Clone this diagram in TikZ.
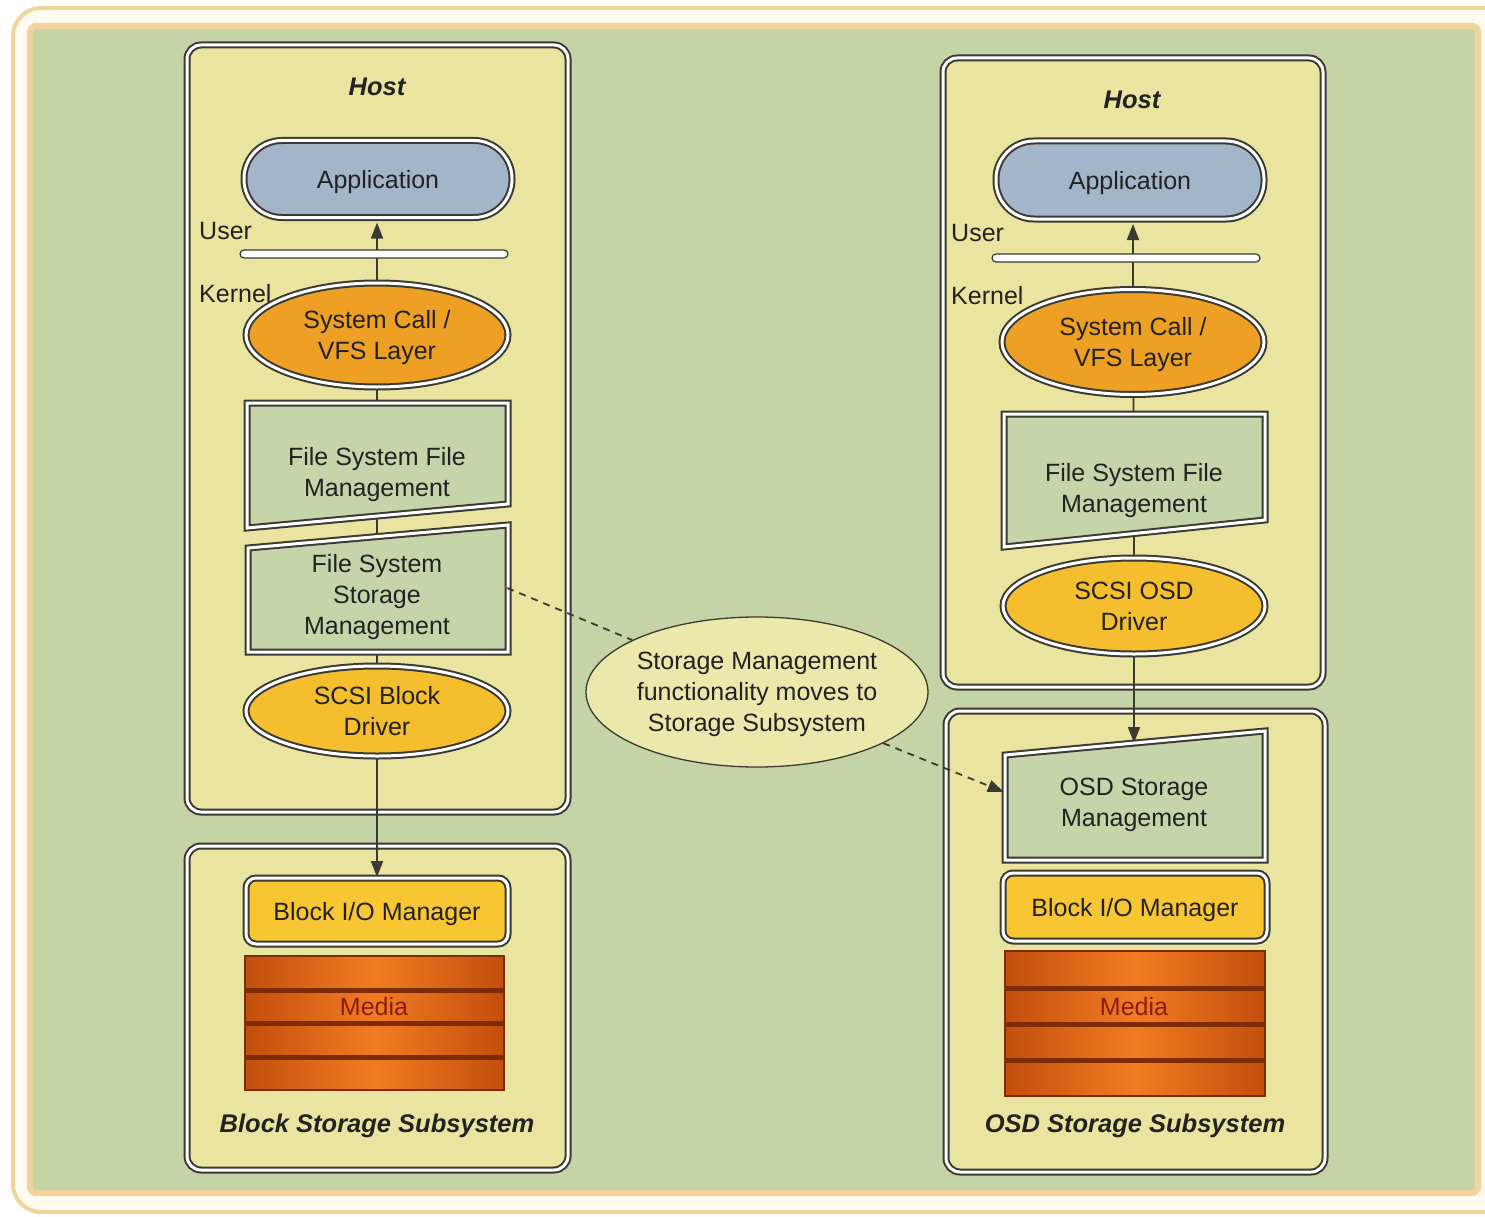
\documentclass[tikz,border=0pt]{standalone}
\usepackage{fontspec}
\setmainfont{Liberation Sans}
\usetikzlibrary{shapes.geometric,arrows.meta,calc}
\pgfdeclarelayer{base}
\pgfdeclarelayer{bg}
\pgfdeclarelayer{mid}
\pgfsetlayers{base,bg,mid,main}
\definecolor{bggreen}{HTML}{C5D4A7}
\definecolor{frameor}{HTML}{F0D49C}
\definecolor{framecream}{HTML}{FFFBF0}
\definecolor{hostyel}{HTML}{E9E5A0}
\definecolor{appblue}{HTML}{A2B5C9}
\definecolor{sysor}{HTML}{EDA024}
\definecolor{scsiyel}{HTML}{F4BE2E}
\definecolor{bioyel}{HTML}{F8C632}
\definecolor{fsgreen}{HTML}{C6D4AA}
\definecolor{callfill}{HTML}{EBE8AC}
\definecolor{meddark}{HTML}{C24E0C}
\definecolor{medlight}{HTML}{F27C22}
\definecolor{medband}{HTML}{7E2C08}
\definecolor{medtext}{HTML}{8B1A10}
\definecolor{edge}{HTML}{3A3A32}
\definecolor{txt}{HTML}{222222}
\begin{document}
\begin{tikzpicture}[x=1pt,y=-1pt,
  every node/.style={font=\fontsize{25}{31}\selectfont, text=txt, align=center, inner sep=0pt, text depth=0pt},
  dbl/.style={draw=edge, double=white, line width=2pt, double distance=3pt},
  hostbox/.style={dbl, fill=hostyel, rounded corners=14pt},
  pill/.style={dbl, fill=appblue, rounded corners=38pt},
  oval/.style={dbl, ellipse},
  biobox/.style={dbl, fill=bioyel, rounded corners=10pt},
  sepbar/.style={draw=edge, line width=1.2pt, fill=white, rounded corners=4pt, minimum height=8pt, minimum width=268pt},
  ttl/.style={font=\fontsize{25.5}{31}\selectfont\bfseries\itshape},
  lbl/.style={anchor=west},
  conn/.style={draw=edge, line width=1.8pt},
  arr/.style={conn, -{Triangle[length=16pt,width=12pt]}},
  dsh/.style={draw=edge, line width=1.8pt, dash pattern=on 7pt off 6pt},
  band/.style={draw=medband, line width=5pt},
  textbox/.style={minimum width=260pt}
]
\useasboundingbox (0,0) rectangle (1485,1217);
\clip (0,0) rectangle (1485,1217);
\begin{pgfonlayer}{base}
\fill[white] (0,0) rectangle (1485,1217);
% outer frame
\draw[line width=4pt, draw=frameor, fill=framecream, rounded corners=28pt] (13,8) rectangle (1520,1212);
\draw[line width=6pt, draw=frameor, fill=bggreen, rounded corners=6pt] (30,26) rectangle (1478,1193);
% containers
\node[hostbox, minimum width=381pt, minimum height=767pt] (hostL) at (377.5,428.5) {};
\node[hostbox, minimum width=381pt, minimum height=324pt] (storL) at (377.5,1008) {};
\node[hostbox, minimum width=380pt, minimum height=629pt] (hostR) at (1133,372.5) {};
\node[hostbox, minimum width=379pt, minimum height=461pt] (storR) at (1135.5,941.5) {};
\end{pgfonlayer}

\node[ttl] (hostLt) at (377,87) {Host};
\node[ttl] (hostRt) at (1132,100) {Host};
\node[ttl] (storLt) at (377,1123) {Block Storage Subsystem};
\node[ttl] (storRt) at (1135,1123) {OSD Storage Subsystem};

% ---------- left column ----------
\node[pill, minimum width=268pt, minimum height=77pt] (appL) at (378,179) {Application};
\node[sepbar] (barL) at (374,254) {};
\node[lbl] (userL) at (199,231) {User};
\node[lbl] (kernelL) at (199,293) {Kernel};
\node[oval, fill=sysor, minimum width=262pt, minimum height=104pt] (sysL) at (377,335) {System Call /\\VFS Layer};
\node[textbox] (fsfmL) at (377,472) {File System File\\Management};
\node[textbox] (fssmL) at (377,594) {File System\\Storage\\Management};
\node[oval, fill=scsiyel, minimum width=262pt, minimum height=90pt] (scsiL) at (377,711) {SCSI Block\\Driver};
\node[biobox, minimum width=262pt, minimum height=66pt] (bioL) at (377,911) {Block I/O Manager};

\begin{pgfonlayer}{mid}
\draw[dbl, fill=fsgreen] (247,403) -- (508,403) -- (508,504) -- (247,528) -- cycle;
\draw[dbl, fill=fsgreen] (248,548) -- (508,525) -- (508,652) -- (248,652) -- cycle;
\end{pgfonlayer}

% media left
\shade[left color=meddark, right color=meddark, middle color=medlight] (245,956) rectangle (504,1090);
\draw[band] (245,990) -- (504,990);
\draw[band] (245,1023) -- (504,1023);
\draw[band] (245,1057) -- (504,1057);
\draw[draw=medband, line width=2pt] (245,956) rectangle (504,1090);
\node[text=medtext] (mediaL) at (374,1006) {Media};

% ---------- right column ----------
\node[pill, minimum width=268pt, minimum height=78pt] (appR) at (1130,180) {Application};
\node[sepbar] (barR) at (1126,258) {};
\node[lbl] (userR) at (951,233) {User};
\node[lbl] (kernelR) at (951,295) {Kernel};
\node[oval, fill=sysor, minimum width=262pt, minimum height=105pt] (sysR) at (1133,342) {System Call /\\VFS Layer};
\node[textbox] (fsfmR) at (1134,488) {File System File\\Management};
\node[oval, fill=scsiyel, minimum width=262pt, minimum height=96pt] (osdR) at (1134,606) {SCSI OSD\\Driver};
\node[textbox] (osmR) at (1134,802) {OSD Storage\\Management};
\coordinate (osmRtop) at (1134,743);
\node[biobox, minimum width=264pt, minimum height=68pt] (bioR) at (1135,907) {Block I/O Manager};

\begin{pgfonlayer}{mid}
\draw[dbl, fill=fsgreen] (1004,414) -- (1265,414) -- (1265,520) -- (1004,547) -- cycle;
\draw[dbl, fill=fsgreen] (1005,755) -- (1265,731) -- (1265,860) -- (1005,860) -- cycle;
\end{pgfonlayer}

% media right
\shade[left color=meddark, right color=meddark, middle color=medlight] (1005,951) rectangle (1265,1096);
\draw[band] (1005,988) -- (1265,988);
\draw[band] (1005,1024) -- (1265,1024);
\draw[band] (1005,1060) -- (1265,1060);
\draw[draw=medband, line width=2pt] (1005,951) rectangle (1265,1096);
\node[text=medtext] (mediaR) at (1134,1006) {Media};

% callout
\node[ellipse, draw=edge, line width=1.3pt, fill=callfill, minimum width=342pt, minimum height=150pt] (callout) at (757,692) {Storage Management\\functionality moves to\\Storage Subsystem};

% connectors
\begin{pgfonlayer}{bg}
\draw[arr, shorten >=4pt] (sysL.north) -- (sysL.north |- appL.south);
\draw[conn] (sysL) -- (fsfmL);
\draw[conn] (fsfmL) -- (fssmL);
\draw[conn] (fssmL) -- (scsiL);
\draw[arr] (scsiL.south) -- (scsiL.south |- bioL.north);
\draw[arr, shorten >=4pt] (sysR.north) -- (sysR.north |- appR.south);
\draw[conn] (sysR) -- (fsfmR);
\draw[conn] (fsfmR) -- (osdR);
\draw[arr] (osdR.south) -- (osmRtop);
\end{pgfonlayer}
\draw[dsh] ([yshift=6pt]fssmL.east) -- (callout);
\draw[dsh, -{Triangle[length=16pt,width=12pt]}] (callout) -- ([yshift=10pt]osmR.west);
\end{tikzpicture}
\end{document}
